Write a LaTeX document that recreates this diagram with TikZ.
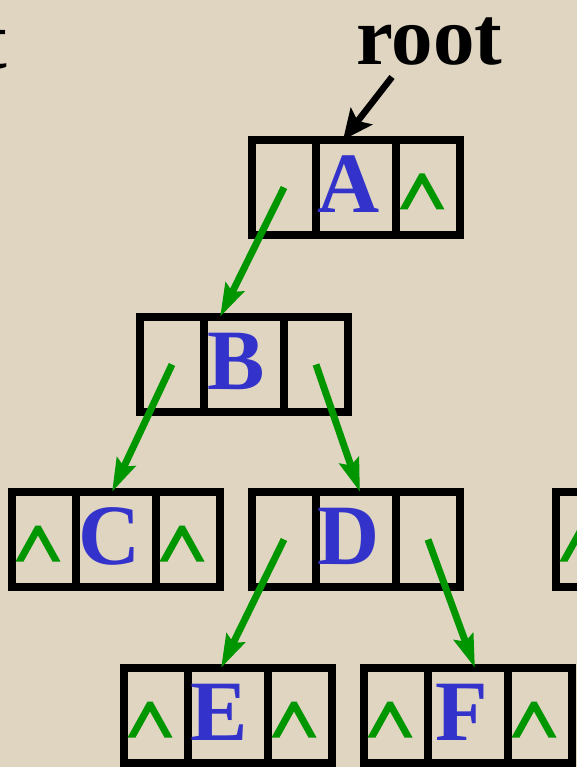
\documentclass[tikz,border=0pt]{standalone}
\usepackage{fontspec}
\setmainfont{Liberation Serif}
\usetikzlibrary{arrows.meta}
\definecolor{bg}{HTML}{DFD5C1}
\definecolor{ptrgreen}{RGB}{0,150,0}
\definecolor{letterblue}{RGB}{51,51,204}
\newcommand\nullmark[1]{\fill[ptrgreen] ([shift={(-28.5,22)}]#1.center) -- ++(20,-36) -- ++(5,0) -- ++(20,36) -- ++(-8,0) -- ++(-14.5,-26) -- ++(-14.5,26) -- cycle;}
\newcommand\binrec[3]{%
  \node[sidecell] (#1l) at (#2+32,#3+47.5) {};
  \node[midcell] (#1m) at (#2+104,#3+47.5) {};
  \node[sidecell] (#1r) at (#2+176,#3+47.5) {};
}
\tikzset{
  cellbox/.style={draw=black, line width=7.5pt, inner sep=0pt, outer sep=0pt, minimum height=95pt},
  sidecell/.style={cellbox, minimum width=64pt},
  midcell/.style={cellbox, minimum width=80pt},
  letter/.style={text=letterblue, inner sep=0pt, font=\fontsize{86}{86}\selectfont\bfseries},
  roottext/.style={text=black, inner sep=0pt, font=\fontsize{83}{83}\selectfont\bfseries},
  ptr/.style={draw=ptrgreen, line width=7pt, -{Stealth[length=33pt,width=20pt,inset=5pt]}},
  rootptr/.style={draw=black, line width=6.5pt, -{Stealth[length=30pt,width=27pt,inset=6pt]}}
}
\begin{document}
\begin{tikzpicture}[x=1pt,y=-1pt]
\useasboundingbox (0,0) rectangle (577,767);
\fill[bg] (0,0) rectangle (577,767);
% text fragment at left edge
\node[roottext, anchor=base east] (frag) at (7,69) {t};
% root label
\node[roottext, anchor=base west] (root) at (356,65) {root};
\coordinate (rootstart) at (392,77);
% records
\binrec{A}{252}{140}
\binrec{B}{140}{317}
\binrec{C}{12}{492}
\binrec{D}{252}{492}
\binrec{E}{124}{668}
\binrec{F}{364}{668}
\binrec{G}{556}{492}
% letters
\node[letter] (At) at ([shift={(-7,-3)}]Am.center) {A};
\node[letter] (Bt) at ([shift={(-8,-3)}]Bm.center) {B};
\node[letter] (Ct) at ([shift={(-6,-3)}]Cm.center) {C};
\node[letter] (Dt) at ([shift={(-7,-3)}]Dm.center) {D};
\node[letter] (Et) at ([shift={(-9,-3)}]Em.center) {E};
\node[letter] (Ft) at ([shift={(-6,-3)}]Fm.center) {F};
% null pointers
\nullmark{Ar}
\nullmark{Cl}
\nullmark{Cr}
\nullmark{El}
\nullmark{Er}
\nullmark{Fl}
\nullmark{Fr}
\nullmark{Gl}
% pointers
\draw[rootptr] (rootstart) -- ([xshift=-13pt]Am.north);
\draw[ptr] (Al.center) -- ([xshift=-24pt]Bm.north);
\draw[ptr] (Bl.center) -- ([xshift=-4pt]Cm.north);
\draw[ptr] (Br.center) -- ([xshift=4pt]Dm.north);
\draw[ptr] (Dl.center) -- ([xshift=-7pt]Em.north);
\draw[ptr] (Dr.center) -- ([xshift=7pt]Fm.north);
\end{tikzpicture}
\end{document}
